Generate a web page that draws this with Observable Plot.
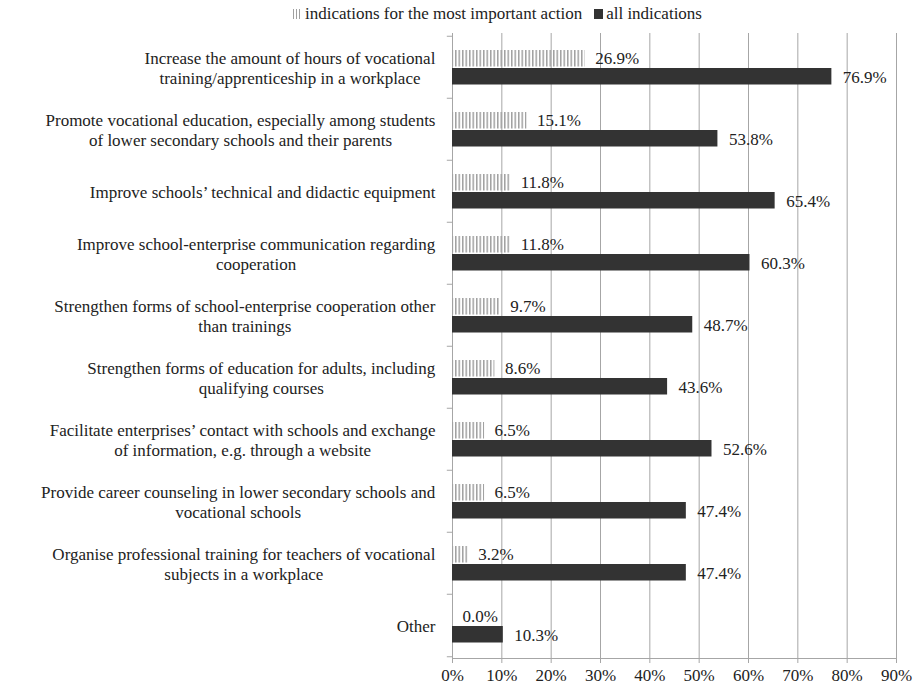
<!DOCTYPE html>
<html><head><meta charset="utf-8">
<script src="https://cdn.jsdelivr.net/npm/d3@7"></script>
<script src="https://cdn.jsdelivr.net/npm/@observablehq/plot@0.6"></script>
</head><body style="margin:0;background:#fff;font-family:'Liberation Serif','Times New Roman',serif">
<div id="legend" style="height:28px;width:921px;display:flex;justify-content:center;align-items:center;gap:12px;font-size:17px;color:#222;padding-left:74px;box-sizing:border-box;">
 <span style="display:flex;align-items:center;gap:3px;white-space:nowrap;"><span style="display:inline-block;width:9px;height:10px;background:repeating-linear-gradient(90deg,#a0a0a0 0 1.5px,#fff 1.5px 3px)"></span>indications for the most important action</span>
 <span style="display:flex;align-items:center;gap:3px;white-space:nowrap;"><span style="display:inline-block;width:9px;height:10px;background:#333"></span>all indications</span>
</div>
<div id="chart"></div>
<script>
const categories = [
  "Increase the amount of hours of vocational\ntraining/apprenticeship in a workplace",
  "Promote vocational education, especially among students\nof lower secondary schools and their parents",
  "Improve schools’ technical and didactic equipment",
  "Improve school-enterprise communication regarding\ncooperation",
  "Strengthen forms of school-enterprise cooperation other\nthan trainings",
  "Strengthen forms of education for adults, including\nqualifying courses",
  "Facilitate enterprises’ contact with schools and exchange\nof information, e.g. through a website",
  "Provide career counseling in lower secondary schools and\nvocational schools",
  "Organise professional training for teachers of vocational\nsubjects in a workplace",
  "Other"
];
const mostImportant = [26.9, 15.1, 11.8, 11.8, 9.7, 8.6, 6.5, 6.5, 3.2, 0.0];
const allIndications = [76.9, 53.8, 65.4, 60.3, 48.7, 43.6, 52.6, 47.4, 47.4, 10.3];
const xTicks = [0, 10, 20, 30, 40, 50, 60, 70, 80, 90];

const imp = categories.map((c, i) => ({cat: c, v: mostImportant[i]}));
const all = categories.map((c, i) => ({cat: c, v: allIndications[i]}));

const H = 662, mT = 5, mB = 32;
const bw = (H - mT - mB) / categories.length;
const font = "'Liberation Serif', 'Times New Roman', serif";
const fs = 17;

const plot = Plot.plot({
  width: 921,
  height: H,
  marginLeft: 452,
  marginRight: 25,
  marginTop: mT,
  marginBottom: mB,
  style: {fontFamily: font, fontSize: fs + "px", color: "#222", background: "#fff"},
  x: {domain: [0, 90], ticks: xTicks, tickFormat: d => d + "%", label: null},
  y: {domain: categories, padding: 0, axis: null},
  marks: [
    Plot.gridX(xTicks, {stroke: "#a6a6a6", strokeOpacity: 1}),
    Plot.frame({anchor: "left", stroke: "#a6a6a6"}),
    Plot.frame({anchor: "bottom", stroke: "#a6a6a6"}),
    Plot.axisX({ticks: xTicks, tickFormat: d => d + "%", tickSize: 5, tickPadding: 5, stroke: "#a6a6a6", fill: "#222", fontSize: fs, label: null}),
    Plot.ruleY(categories, {y: d => d, x1: -1.05, x2: 0, dy: -bw / 2, stroke: "#a6a6a6"}),
    Plot.ruleY(categories.slice(-1), {y: d => d, x1: -1.05, x2: 0, dy: bw / 2, stroke: "#a6a6a6"}),
    Plot.barX(imp, {y: "cat", x: "v", fill: "url(#stripes)", insetTop: 14, insetBottom: bw - 31}),
    Plot.barX(all, {y: "cat", x: "v", fill: "#333333", insetTop: 32, insetBottom: bw - 49}),
    Plot.text(imp, {y: "cat", x: "v", text: d => d.v.toFixed(1) + "%", textAnchor: "start", dx: 10, dy: -9, fill: "#222", fontSize: fs}),
    Plot.text(all, {y: "cat", x: "v", text: d => d.v.toFixed(1) + "%", textAnchor: "start", dx: 11, dy: 10, fill: "#222", fontSize: fs}),
    Plot.text(categories, {y: d => d, frameAnchor: "left", text: d => d, textAnchor: "end", dx: -17, lineHeight: 20 / fs, fill: "#222", fontSize: fs})
  ]
});

document.getElementById("chart").appendChild(plot);

// stripe pattern
const ns = "http://www.w3.org/2000/svg";
const defs = document.createElementNS(ns, "defs");
const pat = document.createElementNS(ns, "pattern");
pat.setAttribute("id", "stripes");
pat.setAttribute("patternUnits", "userSpaceOnUse");
pat.setAttribute("width", "3.5");
pat.setAttribute("height", "10");
const r = document.createElementNS(ns, "rect");
r.setAttribute("x", "0"); r.setAttribute("y", "0");
r.setAttribute("width", "1.5"); r.setAttribute("height", "10");
r.setAttribute("fill", "#a0a0a0");
pat.appendChild(r);
defs.appendChild(pat);
plot.insertBefore(defs, plot.firstChild);

// center lines within each right-aligned label block
const flat = new Set(categories.filter(c => c.includes("\n")).map(c => c.replace("\n", "")));
plot.querySelectorAll("text").forEach(t => {
  if (!flat.has(t.textContent)) return;
  const w = t.getBBox().width;
  t.setAttribute("text-anchor", "middle");
  t.querySelectorAll("tspan").forEach(s => s.setAttribute("text-anchor", "middle"));
  const tr = t.getAttribute("transform") || "";
  t.setAttribute("transform", tr + ` translate(${-w / 2},0)`);
});
</script>
</body></html>
